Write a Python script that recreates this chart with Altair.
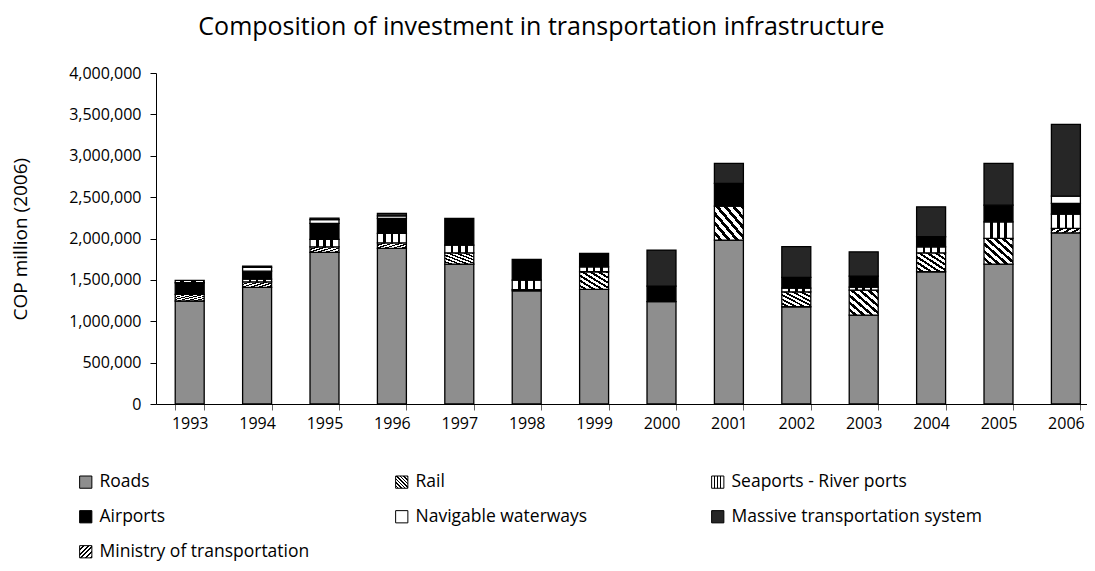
import altair as alt
import pandas as pd

years = ["1993", "1994", "1995", "1996", "1997", "1998", "1999",
         "2000", "2001", "2002", "2003", "2004", "2005", "2006"]

series = ["Roads", "Rail", "Seaports - River ports", "Airports",
          "Navigable waterways", "Massive transportation system",
          "Ministry of transportation"]

roads = [1245000, 1409000, 1832000, 1880000, 1691000, 1368000, 1385000,
         1236000, 1981000, 1175000, 1075000, 1598000, 1691000, 2069000]
rail = [80000, 68000, 68000, 68000, 136000, 15000, 213000,
        0, 410000, 181000, 302000, 229000, 310000, 53000]
seaports = [0, 33000, 89000, 114000, 93000, 115000, 60000,
            0, 0, 45000, 36000, 73000, 201000, 173000]
airports = [140000, 96000, 193000, 181000, 322000, 250000, 162000,
            189000, 274000, 130000, 133000, 121000, 201000, 129000]
navigable = [0, 45000, 45000, 30000, 0, 0, 0,
             0, 0, 0, 0, 0, 0, 88000]
massive = [0, 15000, 20000, 30000, 0, 0, 0,
           435000, 242000, 371000, 293000, 362000, 504000, 866000]
ministry = [30000, 0, 0, 0, 0, 0, 0,
            0, 0, 0, 0, 0, 0, 0]

values = [roads, rail, seaports, airports, navigable, massive, ministry]

rows = []
for si, (name, vals) in enumerate(zip(series, values)):
    for yr, v in zip(years, vals):
        if v > 0:
            rows.append({"year": yr, "series": name, "order": si, "value": v})
df = pd.DataFrame(rows)


def gradient_expr(x1, y1, x2, y2, stops):
    st = ",".join("{offset:%.4f,color:'%s'}" % (o, c) for o, c in stops)
    return {"expr": "{gradient:'linear',x1:%g,y1:%g,x2:%g,y2:%g,stops:[%s]}"
            % (x1, y1, x2, y2, st)}


def hatch_stops(n, line_frac):
    stops = []
    for i in range(n):
        s = i / n
        e = (i + 1) / n
        a = s + (1 - line_frac) / n
        stops += [(s, "#ffffff"), (a, "#ffffff"), (a, "#000000"), (e, "#000000")]
    return stops


def vstripe_stops(lines, w):
    stops = [(0, "#ffffff")]
    for c in lines:
        stops += [(c - w / 2, "#ffffff"), (c - w / 2, "#000000"),
                  (c + w / 2, "#000000"), (c + w / 2, "#ffffff")]
    stops.append((1, "#ffffff"))
    return stops


fills = [
    "#8e8e8e",
    gradient_expr(0, 1, 1, 0, hatch_stops(7, 0.45)),
    gradient_expr(0, 0, 1, 0, vstripe_stops([0.25, 0.5, 0.75], 0.09)),
    "#000000",
    "#ffffff",
    "#262626",
    gradient_expr(0, 0, 1, 1, hatch_stops(5, 0.4)),
]

FONT = "Open Sans"

chart = alt.Chart(df).mark_bar(stroke="black", strokeWidth=1.3).encode(
    x=alt.X("year:O", sort=years,
            scale=alt.Scale(paddingInner=0.57, paddingOuter=0.285, range=[0, 943.6]),
            axis=alt.Axis(title=None, labelAngle=0, tickBand="extent",
                          labelFontSize=16, labelFont=FONT, labelColor="black",
                          labelPadding=5, tickSize=6, tickColor="#666",
                          domainColor="black", grid=False)),
    y=alt.Y("value:Q", stack="zero",
            scale=alt.Scale(domain=[0, 4000000], nice=False),
            axis=alt.Axis(title="COP million (2006)", values=list(range(0, 4000001, 500000)),
                          labelExpr="format(datum.value, ',.0f')",
                          labelFontSize=16, labelFont=FONT,
                          labelColor="black", labelPadding=9, tickSize=6,
                          tickColor="black", domainColor="black", grid=False,
                          titleFont=FONT, titleFontSize=19, titleFontWeight="normal",
                          titleColor="black", titleAngle=270, titleX=-145,
                          titleY=165.6, titleBaseline="top", titleAlign="center")),
    color=alt.Color("series:N",
                    scale=alt.Scale(domain=series, range=fills),
                    legend=alt.Legend(title=None, orient="none", legendX=-79,
                                      legendY=400, columns=3, direction="horizontal",
                                      gridAlign="all", columnPadding=43, rowPadding=16,
                                      symbolType="square", symbolSize=150,
                                      symbolStrokeColor="black", symbolStrokeWidth=1,
                                      labelFontSize=17.5, labelFont=FONT,
                                      labelColor="black", labelOffset=5,
                                      labelLimit=400)),
    order=alt.Order("order:Q"),
).properties(
    width=931,
    height=331,
    autosize=alt.AutoSizeParams(type="none"),
    padding={"left": 148, "top": 65, "right": 0, "bottom": 160},
    title=alt.TitleParams(
        "Composition of investment in transportation infrastructure",
        font=FONT, fontSize=25, fontWeight="normal", color="black",
        anchor="middle", dx=-80, offset=25,
    ),
).configure_view(stroke=None)

chart.save("out.html", embed_options={"renderer": "svg", "actions": False})
